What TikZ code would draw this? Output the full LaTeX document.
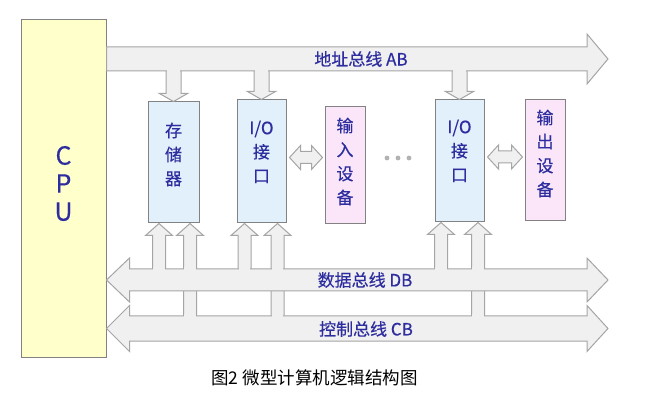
\documentclass[tikz,border=0pt]{standalone}
\usepackage{fontspec}
\setmainfont{Noto Sans CJK SC}
\newfontfamily\labfont[FakeBold=0.4]{Noto Sans CJK SC}
\usetikzlibrary{calc}
\definecolor{busfill}{RGB}{240,240,240}
\definecolor{busline}{RGB}{165,165,165}
\definecolor{boxline}{RGB}{130,130,130}
\definecolor{boxblue}{RGB}{226,240,252}
\definecolor{boxpink}{RGB}{250,230,248}
\definecolor{cpuyellow}{RGB}{255,255,204}
\definecolor{txtblue}{RGB}{45,45,160}
\begin{document}
\begin{tikzpicture}[
        x=1pt, y=-1pt,
        unit/.style={
          draw=boxline,
          fill=boxblue,
          line width=1pt,
          inner sep=0pt
        },
        dev/.style={
          unit,
          fill=boxpink
        },
        bus/.style={
          draw=busline,
          fill=busfill,
          line width=1pt
        },
        gap/.style={
          fill=busfill
        },
        lbl/.style={
          text=txtblue,
          font=\labfont\fontsize{17}{24}\selectfont,
          align=center,
          inner sep=0pt
        },
        col/.style={
          lbl,
          anchor=north
        }
      ]
        \useasboundingbox (0,0) rectangle (665,417);

        \node[unit,fill=cpuyellow,minimum width=85pt,minimum height=337pt] (cpu) at (63.5,188.5) {};
        \node[unit,minimum width=51pt,minimum height=121pt] (mem) at (173.5,162.5) {};
        \node[unit,minimum width=49pt,minimum height=123pt] (io1) at (261.5,161.5) {};
        \node[dev,minimum width=40pt,minimum height=117pt] (in) at (345,165.5) {};
        \node[unit,minimum width=49pt,minimum height=122pt] (io2) at (459.5,161) {};
        \node[dev,minimum width=40pt,minimum height=121pt] (out) at (545,160.5) {};

        \coordinate (ab) at (608,59);
        \coordinate (db) at (608,280);
        \coordinate (cb) at (608,328.5);

        \foreach \u in {mem, io1, io2}
          \draw[bus] (\u.north) -- ++(14,-8) -- ++(-6.5,0) -- ($(\u.north |- ab)+(7.5,0)$)
            -- ++(-15,0) -- ($(\u.north)+(-7.5,-8)$) -- ++(-6.5,0) -- cycle;

        \foreach \u/\dx/\b in {mem/-14.5/db, mem/16.5/cb, io1/-17/db, io1/16/cb, io2/-18.5/db, io2/18.5/cb} {
          \coordinate (t) at ($(\u.south)+(\dx,0)$);
          \draw[bus] (t) -- ++(13.5,12) -- ++(-7,0) -- ($(t |- \b)+(6.5,0)$) -- ++(-13,0)
            -- ($(t)+(-6.5,12)$) -- ++(-7,0) -- cycle;
        }

        \draw[bus] ($(cpu.east |- ab)+(0,-12)$) -- ($(ab)+(-21,-12)$) -- ++(0,-13) -- (ab)
          -- ++(-21,25) -- ++(0,-13) -- ($(cpu.east |- ab)+(0,12)$) -- cycle;
        \foreach \b/\h/\w in {db/11/22, cb/12.5/23}
          \draw[bus] (cpu.east |- \b) -- ++(23,-\w) -- ++(0,\w-\h) -- ($(\b)+(-21,-\h)$)
            -- ++(0,\h-\w) -- (\b) -- ++(-21,\w) -- ++(0,\h-\w)
            -- ($(cpu.east |- \b)+(23,\h)$) -- ++(0,\w-\h) -- cycle;

        \foreach \u in {mem, io1, io2}
          \fill[gap] ($(\u.north |- ab)+(-6.9,10)$) rectangle ++(13.8,4);
        \foreach \u/\dx/\b/\e in {mem/-14.5/db/11, mem/16.5/cb/12.5, io1/-17/db/11, io1/16/cb/12.5, io2/-18.5/db/11, io2/18.5/cb/12.5} {
          \fill[gap] ($(\u.south |- db)+(\dx-5.9,-13)$) rectangle ++(11.8,4);
          \fill[gap] ($(\u.south |- \b)+(\dx-5.9,-\e-2)$) rectangle ++(11.8,4);
        }

        \foreach \l/\r in {io1/in, io2/out} {
          \coordinate (p) at ($(\l.east)+(3,-4)$);
          \coordinate (q) at ($(p -| \r.west)+(-2,0)$);
          \draw[bus] (p) -- ++(11,-12) -- ++(0,6) -- ($(q)+(-11,-6)$) -- ++(0,-6) -- (q)
            -- ++(-11,12) -- ++(0,-6) -- ($(p)+(11,6)$) -- ++(0,6) -- cycle;
        }

        \foreach \x in {387, 398, 409}
          \fill[gray!60] (\x,158) circle (2.4);

        \node[lbl] (ablbl) at (361,59) {地址总线 AB};
        \node[lbl] (dblbl) at (365,280) {数据总线 DB};
        \node[lbl] (cblbl) at (366,329) {控制总线 CB};

        \node[lbl,font=\labfont\fontsize{25}{28}\selectfont] (cputxt) at ($(cpu)+(0,-5)$) {C\\P\\U};
        \node[col] (memtxt) at ($(mem.north)+(0,21)$) {存\\储\\器};
        \node[col] (io1txt) at ($(io1.north)+(0,21)$) {I/O\\接\\口};
        \node[col] (intxt) at ($(in.north)+(0,11)$) {输\\入\\设\\备};
        \node[col] (io2txt) at ($(io2.north)+(0,20)$) {I/O\\接\\口};
        \node[col] (outtxt) at ($(out.north)+(0,10)$) {输\\出\\设\\备};

        \node[font=\fontsize{17.5}{20}\selectfont] (cap) at (314.5,378) {图2 微型计算机逻辑结构图};
      \end{tikzpicture}
\end{document}
